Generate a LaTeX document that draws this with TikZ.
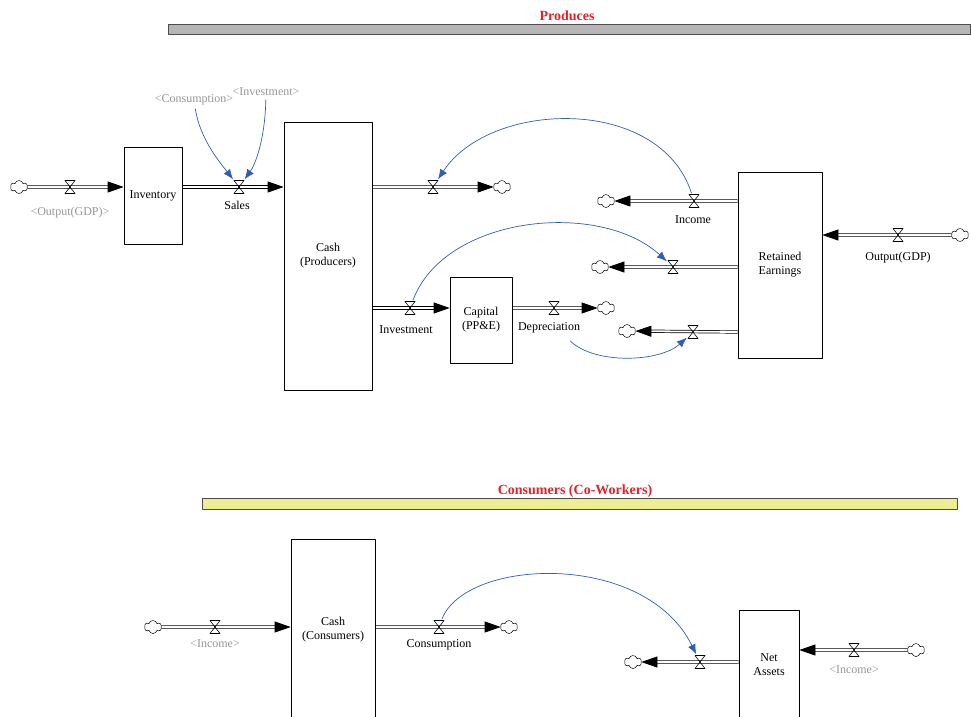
\documentclass[tikz,border=0pt]{standalone}
\usepackage{fontspec}
\setmainfont{Liberation Serif}
\usetikzlibrary{arrows.meta,shapes.symbols,backgrounds}
\definecolor{linkblue}{RGB}{46,94,184}
\definecolor{ghostgray}{RGB}{150,150,150}
\definecolor{titlered}{RGB}{232,32,40}
\definecolor{bargray}{RGB}{182,182,182}
\definecolor{baryellow}{RGB}{238,238,146}
\tikzset{>=latex}
\tikzset{
    stock/.style={draw, line width=0.7pt, align=center, inner sep=0, font=\fontsize{12}{14}\selectfont},
    valve/.style={inner sep=0, minimum width=12pt, minimum height=15pt,
        path picture={\draw[line width=0.6pt] ([shift={(-5pt,-6.5pt)}]path picture bounding box.center)
            -- ++(10pt,0) -- ++(-10pt,13pt) -- ++(10pt,0) -- cycle;}},
    sink/.style={cloud, draw, cloud puffs=6, aspect=1.4, inner sep=0, minimum width=17pt, minimum height=13pt, line width=0.5pt},
    pipe/.style={line width=0.7pt, double=white, double distance=1.8pt, -{Triangle[length=16pt,width=11pt]}},
    link/.style={draw=linkblue, line width=0.7pt, -{Latex[length=10pt,width=8pt]}},
    flowname/.style={font=\fontsize{12}{14}\selectfont},
    ghost/.style={flowname, text=ghostgray},
    sectiontitle/.style={text=titlered, font=\bfseries\fontsize{14}{16}\selectfont},
    sectionbar/.style={draw=black!70, line width=0.8pt}
}

\begin{document}
\begin{tikzpicture}[x=1pt, y=-1pt, line join=round]
    \useasboundingbox (0,0) rectangle (971,716);
    \clip (0,0) rectangle (971,716);

    % sections
    \node[sectiontitle] (producestitle) at (567,16) {Produces};
    \draw[sectionbar, fill=bargray] (168,24) rectangle (970.5,34);
    \node[sectiontitle] (consumerstitle) at (575,491) {Consumers (Co-Workers)};
    \draw[sectionbar, fill=baryellow] (202,498) rectangle (957,509);

    % stocks
    \node[stock, minimum width=58pt, minimum height=97pt] (inv) at (153,195.5) {Inventory};
    \node[stock, minimum width=88pt, minimum height=268pt] (cashp) at (328,256) {Cash\\(Producers)};
    \node[stock, minimum width=62pt, minimum height=86pt] (capital) at (481,320) {Capital\\ (PP\&E)};
    \node[stock, minimum width=84pt, minimum height=186pt] (retained) at (780,265) {Retained\\Earnings};
    \node[stock, minimum width=84pt, minimum height=182pt] (cashc) at (333,630) {Cash\\(Consumers)};
    \node[stock, minimum width=60pt, minimum height=110pt] (netassets) at (769,665) {Net\\Assets};

    % clouds
    \node[sink] (srcgdpin) at (19,187) {};
    \node[sink] (sinkspend) at (502,187) {};
    \node[sink] (sinkincome) at (606,201) {};
    \node[sink] (sinkpayout) at (600,267) {};
    \node[sink] (sinkwriteoff) at (627,331) {};
    \node[sink] (srcgdp) at (960,235) {};
    \node[sink] (sinkdeprec) at (606,308) {};
    \node[sink] (srcearn) at (153,627) {};
    \node[sink] (sinkconsume) at (509,627) {};
    \node[sink] (sinkassets) at (633,662) {};
    \node[sink] (srcassets) at (916,650) {};

    % valves
    \node[valve] (gdpin) at (70,187) {};
    \node[valve] (sales) at (239,187) {};
    \node[valve] (spend) at (433,187) {};
    \node[valve] (income) at (694,201) {};
    \node[valve] (payout) at (673,267) {};
    \node[valve] (writeoff) at (693,332) {};
    \node[valve] (gdp) at (898,235) {};
    \node[valve] (invest) at (410,308) {};
    \node[valve] (deprec) at (554,308) {};
    \node[valve] (earn) at (215,627) {};
    \node[valve] (consume) at (439,627) {};
    \node[valve] (spendassets) at (700,662) {};
    \node[valve] (addassets) at (854,650) {};

    % flow names
    \node[ghost] (gdpinname) at (70,213) {<Output(GDP)>};
    \node[flowname] (salesname) at (237,205) {Sales};
    \node[ghost] (consumeghost) at (194,100) {<Consumption>};
    \node[ghost] (investghost) at (266,92) {<Investment>};
    \node[flowname] (incomename) at (693,220) {Income};
    \node[flowname] (gdpname) at (898,258) {Output(GDP)};
    \node[flowname] (investname) at (406,330) {Investment};
    \node[flowname] (deprecname) at (549,328) {Depreciation};
    \node[ghost] (earnname) at (215,644) {<Income>};
    \node[flowname] (consumename) at (439,645) {Consumption};
    \node[ghost] (addassetsname) at (854,670) {<Income>};

    % pipes
    \begin{scope}[on background layer]
        \draw[pipe] (srcgdpin) -- (inv.west |- gdpin);
        \draw[pipe] (inv.east |- sales) -- (cashp.west |- sales);
        \draw[pipe] (cashp.east |- spend) -- (sinkspend);
        \draw[pipe] (retained.west |- income) -- (sinkincome);
        \draw[pipe] (retained.west |- payout) -- (sinkpayout);
        \draw[pipe] (retained.west |- writeoff) -- (sinkwriteoff);
        \draw[pipe] (srcgdp) -- (retained.east |- gdp);
        \draw[pipe] (cashp.east |- invest) -- (capital.west |- invest);
        \draw[pipe] (capital.east |- deprec) -- (sinkdeprec);
        \draw[pipe] (srcearn) -- (cashc.west |- earn);
        \draw[pipe] (cashc.east |- consume) -- (sinkconsume);
        \draw[pipe] (netassets.west |- spendassets) -- (sinkassets);
        \draw[pipe] (srcassets) -- (netassets.east |- addassets);
    \end{scope}

    % links
    \draw[link] (consumeghost) .. controls (200,140) and (222,165) .. (sales);
    \draw[link] (investghost) .. controls (265,140) and (255,165) .. (sales);
    \draw[link] (income) .. controls (660,95) and (490,100) .. (spend);
    \draw[link] (invest) .. controls (445,215) and (600,200) .. (payout);
    \draw[link] ([shift={(21pt,-4pt)}]deprecname.south) .. controls (595,365) and (660,362) .. (writeoff);
    \draw[link] (consume) .. controls (465,558) and (645,550) .. (spendassets);
\end{tikzpicture}
\end{document}
